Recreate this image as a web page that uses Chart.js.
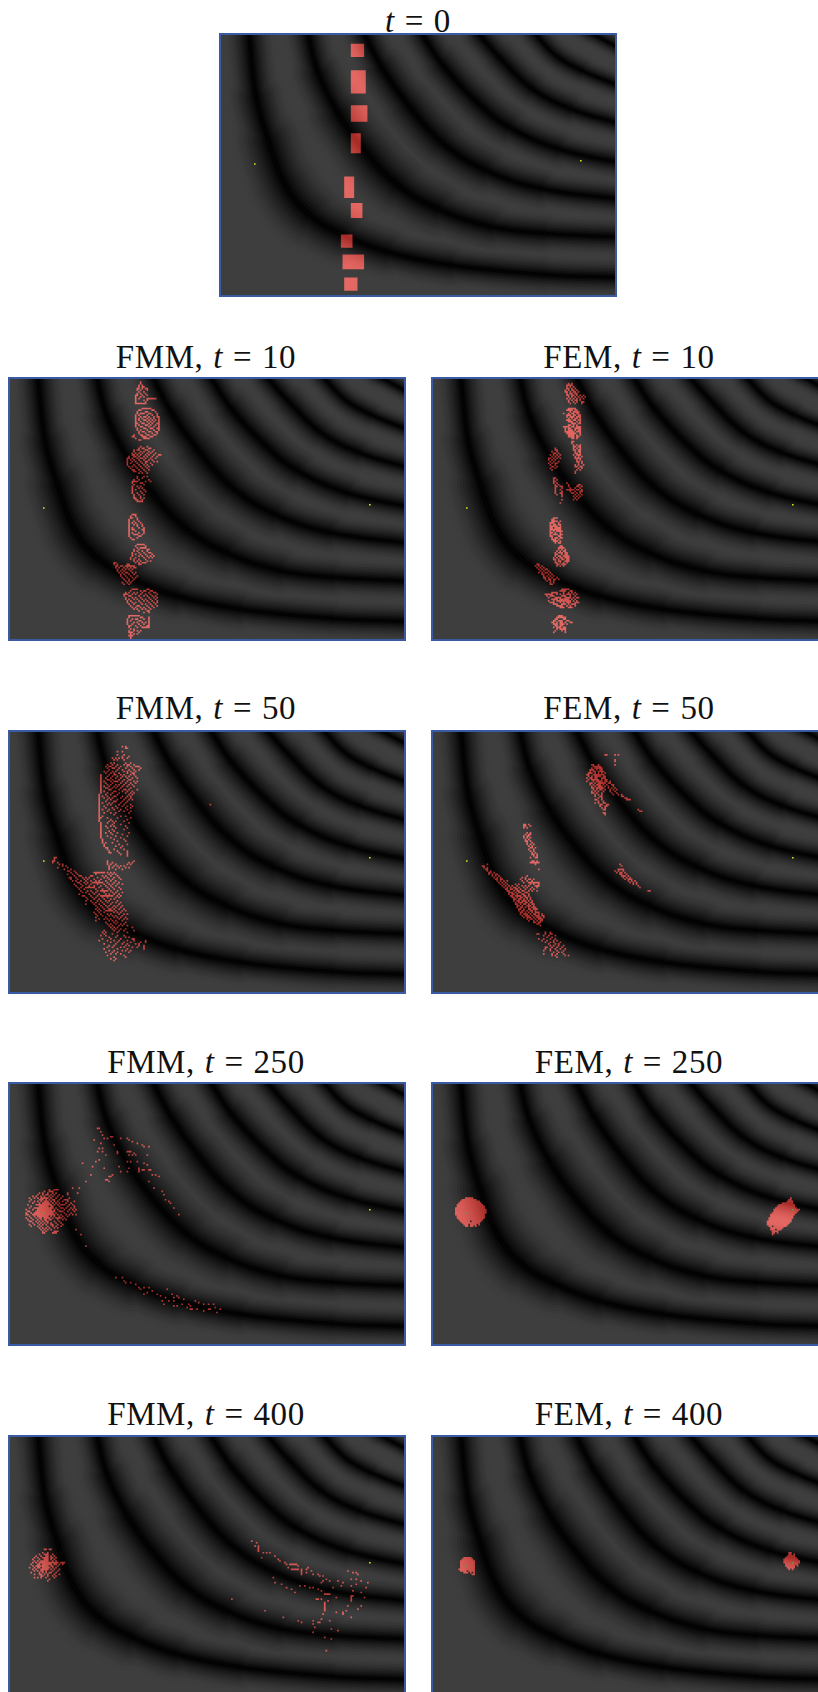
<!DOCTYPE html>
<html><head><meta charset="utf-8">
<script src="https://cdn.jsdelivr.net/npm/chart.js@4"></script>
<style>
html,body{margin:0;padding:0;background:#fff;width:818px;height:1692px;overflow:hidden}
.p{position:absolute;width:398px;height:264px;background:#3e3e3e}
.p canvas{display:block}
.p .f{position:absolute;left:0;top:0;width:398px;height:264px;box-sizing:border-box;border:2px solid #3a5ba4;pointer-events:none}
.t{position:absolute;width:420px;text-align:center;font-family:"Liberation Serif",serif;font-size:33px;line-height:36px;color:#111;white-space:pre;word-spacing:1px;letter-spacing:.6px}
</style></head><body>
<script>
// Dark trough lines of the background field, [col,row]
const trough1=[[17,-6],[18,0],[22.3,38],[29.5,64],[39.5,91],[54.4,109.5],[74.3,121.5],[101.4,132],[139.8,140],[195.8,145.6],[240,147.5],[248,148]];
const trough2=[[52.5,-6],[53.6,0],[59.6,23.5],[71.5,48],[87,70],[107.6,91.5],[131.9,106],[164,116.8],[195.8,120.8],[240,123],[248,123.3]];
const trough3=[[85,-6],[87.5,0],[98,20.5],[114,43.4],[134,65.7],[160.4,82.6],[194.2,93.8],[240,100],[248,100.8]];
const trough4=[[119,-6],[122.2,0],[134.2,18.5],[154.4,40.6],[174.3,56.4],[204.4,69.8],[240,78],[248,79.6]];
const trough5=[[152,-6],[156.2,0],[169,14.6],[188.6,33.5],[211.7,45.6],[240,54.2],[248,56]];
const trough6=[[185,-6],[190.2,0],[203.4,13.8],[218.7,22.6],[240,31.3],[248,34.4]];
const trough7=[[216,-5],[224.3,0],[240,8.4],[248,13]];
const troughs=[trough1,trough2,trough3,trough4,trough5,trough6,trough7];
// Visible width of each trough's dark halo at each of its points
const halo1=[50,50,58,72,88,82,68,56,48,42,42,42];
const halo2=[48,48,54,70,82,78,64,52,44,40,40];
const halo3=[46,46,54,68,68,56,44,38,38];
const halo4=[42,42,50,60,52,42,36,36];
const halo5=[38,38,46,48,38,32,32];
const halo6=[34,34,38,34,28,28];
const halo7=[28,28,26,26];
const halos=[halo1,halo2,halo3,halo4,halo5,halo6,halo7];

// Source points [col,row]
const sourceLeft=[21.6,79];
const sourceRight=[218.2,77];

// Particle cells, "row:cols" on the 240x160 pixel grid of the picture
const t0Cells=["7-14:80-87","23-36:80-88","44-53:80-89","61-72:80-85","87-99:76-81","103-111:80-86","122-129:74-80","134-142:75-87","148-155:76-83"];
const fmm10Cells=["3:80","4:80","5:79,81","6:79,81,82","7:78,79,81,83,84","8:78,80,84","9:79,82","10:78,80,83","11:77,78,81,84","12:77,80,82","13:77,79,84-89","14:77,82,84","15:77,83","16:77-83","19:81-86","20:79,80,87,88","21:78,83,84,89","22:78,80-82,85,86,90","23:77,79,84,87,90","24:77,80,82,83,85,88,90,91","25:77,79,81,84,86,88,91","26:77,79,82,83,85,87,89,91","27:77,80,84,86,88,91","28:77,78,81,82,85,87,90,91","29:77,79,83,84,86,89,91","30:77,80,81,85,88,91","31:78,82,83,86,87,90,91","32:78,80,84,88,91","33:79,81,82,85,86,89,90","34:79,83,87,90","35:76,80,81,84,85,88,89","36:75,76,81-83,86,87","37:77,82-85","38:79,80","42:80,84","43:79,81,82,85,86","44:76,78,79,83,84,88","45:76,80,82,85,87","46:75,77,79,81,84,86,89","47:75,76,78,80,83,85,88,91,92","48:73,76,77,79,82,84,87,90","49:72,73,75,78,80,81,83,86,89","50:72,74,76,79,82,85,87","51:72,75,77,80,83,84,88,90","52:72,74,78,81,83,86","53:72,76,79,82,84,87","54:73,75,77,80,83,85","55:74,78,81,84","56:75,76,79,82,85","57:76,77,80,83","58:79,81,84","60:78,82,84","61:78,81","62:76,79,85","63:75-78,83,86","64:75,80,81","65:76,82","66:75,78,80","67:75,79,81","68:75,77,82","69:75,80,83","70:75,78,81","71:76,79,82","72:76,80","73:76,77,80,82","74:77,78,81","75:78-81","83:75-77","84:74,77","85:74,75,78","86:73,78","87:73,76,79","88:73,75,77,80","89:73,76,78,81","90:73,78,81","91:73,75,79,82","92:73,75,76,81,82","93:73,77,82","94:73,75,79,82","95:73,76-78,81","96:73,79,80","97:74,78","98:75,76","101:78-82","102:77,83","103:78,80-83","104:76,79,84,85","105:76,78,81,84","106:75,79,82,85,86","107:75,77,80,83,87","108:75,79,81,84,86,88","109:74,77,82,85,87","110:74,76,79,83","111:76,78,80,84,86","112:77,79,81-83,64,65","113:79,80,64,66,72,73","114:65,66,68,69,71-76","115:65,67,70,72,74,76,77","116:66,69,71,73,75","117:66,68,70,74","118:67,69,71,72,75,77","119:68,70,73,76","120:68,71,74,78","121:69,72,75,77","122:70,73,76","123:71,73,75","124:69,72,74","125:70,73","128:75-78,84,85","129:74,80,82,83,86,87","130:71,73,76,78,81,85,88,89","131:70-72,75,77,80,83,86,90","132:70,73,74,79,82,84,87,89","133:71,75,77,80,85,88,90","134:71,73,76,78,81,83,86,89","135:72,74,79,82,84,87,90","136:72,75,77,80,85,88,90","137:73,76,81,83,86,89","138:74,78,79,84,87,90","139:75,77,80,82,85,88","140:76,78,81,83,86","141:79,84,85","142:82,85","144:73-79","145:73,80,81,85","146:72,75,77,78,82,85","147:72,74,79,80,85","148:72,76,78,81,83,85","149:72,75,79,82,85","150:73,74,77,80,84,85","151:73,78,81-85","152:74,76","153:73,76,78,80","154:73-75,79","155:74,76,78","156:73-75","157:74","158:74"];
const fem10Cells=["4:83,85","5:82-85","6:82,84,86","7:82,83,85,87","8:81,83,85,86,88","9:81,82,84,86,87,89","10:82,84,85,87,88","11:82,83,85,86,88,90,92","12:83,85,87,89,91,93","13:82,84,86,88,90,92","14:83,85,87,88,90","15:83,86,88,91,92","16:84,87,91","19:83-87","20:82-85,87,88","21:84,86-89","22:80,83,85,86,88,89","23:82-84,86,87,89,90","24:82,84-86,88-90","25:83,85,87,88,90","26:82-84,86,87,89,90","27:83-85,88,90","28:85-87,89,90","29:83,84,86,88","30:80-83,85,86,88-90","31:81,83,84,87-90","32:81,83-85,87,89,90","33:81-86,88-90","34:82-87,90","35:83-86,88,90","36:83-86,88,89","37:85,86,88","39:85,86","40:85","41:86,88,90","42:86,87,89,90","43:86,88,90,75","44:86,87,89,90,75,76","45:87,89,90,73,76","46:87,88,90,74,75,77","47:86,88-90,72,74,76,78","48:87,89,91,73,75,77","49:87-90,71,72,74,76,78","50:88,90,71,73,75","51:88,89,91,72,74,77","52:89,91,71,73,75,76","53:87,89,92,72,75","54:87,88,90,91,73,74,76","55:89,91,72,75","56:88,90,73","57:87","58:87","61:74,75","62:74,76","63:74,75","64:74,76,82","65:75,77,83,89,90","66:75,76,78,79,83,88,89,91","67:75,79,84,87,90","68:75,78,82-86,88,89,91","69:75,79,84,87,90,91","70:75,78,79,85,86,88,90","71:76,79,87,89,91","72:79,86,88,90","73:87,89","74:79,86,88","76:78","85:74-76","86:73,74","87:73-76,78","88:72-74,77","89:72,74,75,77,78","90:72-76,78","91:72,73,75-78","92:72-78","93:72,74,76-79","94:72,73,75,78","95:72,74-76,78,79","96:72,73,77,78","97:73,75,76,78,79","98:73-75,77","99:74-76,78","100:75,77,78","102:78,79","103:77-80","104:77,79,81","105:76,78,80,81","106:75,77-79,81,82","107:75,76,79,81,82","108:75,77,78,80-83","109:74,76,78,79,81-83","110:74,75,77,79,80,82,83","111:75,77,78,81-83","112:75,76,78,80,82","113:76,77,79-81,64,65","114:76,78,80,63,65,67","115:64,66,68","116:65,67,69,70","117:66,68,71","118:65,67,69,70,72","119:67,68,71,73","120:68,70,72,74","121:68,69,71,73,76","122:69,71,72,74,75,77","123:70,72,74","124:72,74","125:72,73","128:79-83","129:78-81,84,85","130:73-76,80,83,85,87","131:69-73,76,78,80,82-84,86,88","132:70,72-74,79-81,84,87","133:71,75-78,81-84,86,88,89","134:73-76,78-83,85,87","135:71,74,76-84,86,88","136:72-74,78,80,82-84,87-89","137:74-76,79-81,83,85-87","138:76-79,82,84,87","139:78-80,83-85","144:77-79","145:76-81","146:75,76,80,81","147:74,75,77-79,82,83","148:73,74,76,78,79,81,84,85","149:74-76,78-80,82","150:75,76,78,79","151:74,76-78,80,81","152:76,78-81","153:75,79,81","154:74,81"];
const fmm50Cells=["10:69,71","11:71,72","13:66,69","15:66,70","16:69,73","17:63,65,67,69,72","18:64,66,70","20:62,64,71,74","21:60,63,66,70,72,73,76","22:59,61,62,65,68,72,74,77-79","23:60,63,64,67,71,75,80","24:61,66,69,73,76,79","25:58,60,63,65,70,72,74,77","26:59,62,64,67,72,75,76","27:56,61,64,65,68,70,74,76","28:56,60,63,66,69,71,73,77","29:56,59,62,65,68,72,75,78","30:56,60,61,63,67,70,73,74","31:56,58,62,64-66,69,72,76,78","32:56,59,63,68,71,74,77","33:56,60,62,65,67,70,73,75","34:56,58,61,64,66,69,72,76","35:56,59,60,63,65,68,74","36:56,61,62,67,70,71,73,78","37:56,58,64,65,69,72,75","38:56,60,63,67,71,74,76","39:55,59,62,66,73,75","40:55,57,60,64,65,69,72,74","41:55,58,61,63,68,71,74","42:55,60,62,66,70,73,75","43:55,59,64,65,69,72","44:55,57,61,63,68,71","45:55,60,62,67,70,74,122","46:55,58,65,69,72,75","47:55,59,63,66,71,74","48:55,57,61,64,68,72","49:55,60,67,70,74","50:55,58,62,65,73","51:55,64","52:55,57,68,71","53:55,56,60,66,74","54:55,62,72","55:55,61,63,65,70","56:56,60,64,73","57:56,63,68","58:56,59,62,64,71","59:56,60,65,72","60:56,63,70","61:56,61,64","62:56,59,62,66,73","63:56,63,69","64:56,60,65,72","65:56,62,68","66:57,64,70","67:57,66,71","68:57,59,63","69:58,67,72","70:58,65,69","71:59,60,68","72:60,64,70","73:61,66,72","74:61,62,67,72","75:68,72","76:72","77:28,29","78:28","79:27,28,60,76","80:27,30,60,63,73,75","81:31,33,60,62,65,72,74","82:33,35,61,64,66,68,70","83:30,36,61,63,67,71,73","84:34,38,61,65,69","85:36,37,40","86:38,41,52-58,60,62,64","87:36,39,42,53,61,63,65","88:40,43,44,50,51,57,59,62,66","89:37,38,41,45,47,49,54,58,60,64,67","90:38,42,46,48,52,56,61,63,68","91:39,41,44,47,50,53,55,59,62,65","92:42,43,46,48,51-57,60,64,67","93:40,44,47,50,54,58,61,63,66,69","94:41,45,49,52,56,59,62,65","95:42,44,47-52,55,60,63,67","96:43,46,53,57,61,64,68","97:44,48,50,54,56-60,62,66","98:45,47,51,53,58,63,65,69","99:43,49,52,55,59,61,64,67","100:45,46,50,54,56-63,66,68","101:47,51,53,57,60,65,67","102:48,52,55,58,62,64","103:47,50,54,56,59,61,66","104:51,53,57,60,63,65,68","105:47,52,55,58,62,67","106:53,56,59,61,64,66,69","107:54,57,60,63,65,68","108:53,55,58,61,62,64,67,70","109:54,56,59-63,65,69,71","110:52,55,58,64,66,68","111:53,56,60,62,67,70,72","112:54,57,61,63,65,69","113:53,59,64,66,68,71","114:55,58,60,62,67,70,72","115:53,61,63,65,69","116:59,64,66,71","117:60,62,65,68,70","118:61,63,67,69,72","119:62,64,66,75","120:63,65,68,71","121:58,64,67,70,76","122:57,59,66,72","123:58,63","124:56,59,66,70","125:61,65,71,73","126:57,62,68,75,76","127:55,60,64,67,72,76,83","128:62,66,70,74,80,83","129:58,65,69,72,77,79","130:61,64,71,73,79,82","131:60,63,68,70,75,78,82","132:58,66,72,82","133:61,64,69,71,74","134:59,63,66,73","135:62,65,68","136:60,70","137:64,71","138:62,65","139:64"];
const fem50Cells=["15:105,106,111,113","18:111","19:111","21:97,98,101,111","22:98-102","23:97,99-103","24:96-98,100,102,103","25:96,98,99,101-104","26:95-97,99,101,103,105","27:94,95,98-104","28:95,97,99-102,104,105","29:94,96,97,99,100,103-105","30:95,97-101,103,105,106","31:94,98,100-103,105,106,108","32:96,97,99,101-105,107,108","33:96,98,100-102,104,106,109,110","34:97,99,101-103,105,107,110","35:97,98,100-104,107,109,111","36:98,100,102,103,105,108,110,112","37:97,99,101,104,108,111","38:97,98,100,103,109,112","39:99,101,103,110,113,115","40:99,102,103,115,116","41:101,103,117,118","42:99,100,103,118-120","43:101,104","44:99,101,104,105","45:102,103,106,107","46:102,105,106","47:103,105","48:104,105,125","49:126,127","50:104,105","51:105","57:56,57,59","58:56,57,60","59:56,58","62:58,60","63:57,59,60","64:56,58,59","65:56,58,60","66:57,59","67:57,58,60","68:58,61","69:58,60,62","70:59,61","71:60,61,63","72:59,62","73:60,62","74:61,63","75:61,62,64","76:62,64","77:60,63,64","79:61,62,64","80:60-65","81:63,34,114","82:31,32,115","83:32,34","84:33,34,65,113-116","85:34,36,111,113,116","86:35,36,38,112,114,115,117","87:35,37,39,40,114,115,118","88:37,39,41,58,115-117,119","89:38,40,42,55,57,116,118,120","90:39,40,42,43,54,57,59,60,62,117,119-121","91:40,42,44,46,55,58,61,119,121,123","92:41,43,45,56,59-65,120,122,124","93:42,44,46,51,53,60,62,65,122,124","94:43,45,47,49,52,55,57,59,63-65,125","95:44,46,48,50,51,53,56,58,61,64,126","96:45,46,48,49,51,52,54,57,60,62","97:46,47,50,52,53,55,56,59,61,64,131,132","98:47-49,51,53,54,57,58","99:47,49,50,52,55,56,59","100:48,49,51-54,56,57,59","101:49,50,52,54,55,57,58,60","102:50,51,53,54,56,58,60","103:50,52,53,55-57,59,61","104:51,53-55,57,58,60,61","105:51,52,54,56,57,59,61,62","106:52,53,55,58-60,62","107:52,54,55,57,59,61-63","108:53,54,56,59,60,62-64","109:53,55,56,58,60,61,63","110:54,55,57,59,61,63-65","111:54,56-58,60,62,63,65,67","112:55,57-59,61,63-65,67,68","113:56,58-60,62,64-66,68","114:58,60,61,63,65-67","115:59,62,64,66,67","116:62,63,65,66","117:64,65","118:66","122:69,72","123:64,65,69,72,73","124:68,71,75","125:70,73","126:65,68,72,75","127:67,70,74,76","128:69,72,74,78","129:71,75,77","130:72,74,77,80","131:69,70,73,76,79","132:69,72,75,78,81","133:68,72,76,80","134:74,77,79","135:68,73,76,80","136:73,75,81,83","137:76"];
const fmm250Cells=["28:54,55","30:56","32:57","33:62,63","34:58,60,68,72","35:52,73","36:75","37:56,78","38:64,81","39:82,85","40:55,57","42:54,57,66,72-74","43:66,76","44:59,84,75,77,73","47:55","48:53,72,74,78","49:45,82","50:84","51:51,67","52:58,73,79","53:79,81,82,85,86","54:68,72,79","56:50,63,87,89","57:62,61,91","59:59,60","60:47,61,85","64:39,43,88","65:25,28-30","66:22,25-27,93","67:19,21,24,27,29,36,42","68:18,21,23,24,26,28,31,36,94","69:15,17,20,22,25,27,30,33","70:13,16,18,20-24,26,29,32,37","71:14,19-21,23,25,27,28,31,34-36,95","72:13,16,18,20,22-24,26,28,30,33,36,40,97","73:15,19,21-25,27,29,31,35,38,98","74:12,17-26,28,30,32-34,37,39","75:14,19-24,26,27,31,36,40","76:13,16-27,29,32,33,35,38,40,100","77:11,15,18-26,28,30,34,37,39,41","78:12,13,17-28,31-33,36,40","79:11,14,16-27,29,34,38","80:11,12,15-28,30,32,35,37,39,41,103","81:13,16,18-24,26,28,31,33,36","82:11,14,17,19,20,22-25,27,29-32,34","83:12,15,18,20,22,23,25,26,30,33,35","84:13,14,17,19,21,23,24,28,31","85:15,18,20,22,24,26,29,32","86:13,16,19,21,23,26,27,30,33","87:14,18,20,24,27,29,32","88:19,21,23,25,28,30","89:20,22,24,26,41","90:21,23,28-30","91:21,22,27-29","92:44","99:47","118:65,69","120:70","121:71,74","122:77","124:79,82,85","125:80,96","126:87","127:84","128:82,90,99","129:92,102","130:95,100,103","131:106","132:93,97,100,113","133:115","134:105,94,109,118,121,124","135:102,100,110","136:108,125","137:110,111,114,121,122,128","138:118","139:126"];
const fem250Cells=["70:21-25,217","71:19-27,216,217","72:18-29,215-218","73:17-30,212-218","74:16-31,210-219","75:16-32,209-219","76:15-32,208-220","77:15-33,207-222","78:15-33,207-221","79:15-33,206-220","80:15-32,205-219","81:16-32,205-218","82:16-32,204-218","83:17-31,204-217","84:18-23,25-30,203-217","85:19-29,203-216","86:20-22,24-27,29,203-215","87:21,22,24,25,27,204,205,207-214","88:205-212","89:205-207,209-211","90:206-209","91:206,207,209","92:206"];
const fmm400Cells=["64:147","65:150","67:149,151","68:151","69:22,23,25,26,151","70:151","71:21,24,154,156,158","72:19,22-24,27","73:17,20,23,24,26,28,161","74:16,18,21-24,26,27,29,153","75:15,19,22-24,26,28,163","76:16,18,20-24,27,29,164","77:15,17,19-30,32-34,167","78:14,18,19,21-26,28,29,31,33,168,170-174","79:15,17-24,26,27,30,175","80:13,16,18,19,21-25,27,29,169,181","81:15,17,20-24,26,28,31,171-175,177,180","82:16,18,20,21,23,27,30,177,183,205","83:14,19,21,23,25,26,29,177,180,208,210","84:16,19,20,22,24,28,31,177,184,187,211","85:20,21,24,27,29,188,190","86:16,18,20,23,28,160","87:25,192,207,210","88:24,190,194,199,213","89:161,202,189,217","90:165,210","91:176,179,201,207","92:168,182,184,196,216","93:171,187","94:189,208","95:173,213","96:191-194","97:207,208","98:198,207,215","99:135,186,187,189,207","100:193,207","101:191","102:191","103:191,205,213","104:191","105:191,211","106:155,191,204","107:202,198","108:190,202","110:166,207","111:189","112:175,184,194","113:177,187,188","114:184","116:185","117:195","118:199","119:184","122:191","123:195","130:192"];
const fem400Cells=["71:216,217","72:216,217,219","73:215-219","74:20-24,214-220","75:19-25,213-221","76:18-26,213-222","77:18-26,213-222","78:18-26,214-221","79:18-26,214-219,221","80:18-26,215-219","81:17-26,216,218","82:18-21,23-26","83:20-22,24,26","84:25,26"];

// Panel titles and where each panel sits
const titleMethods=["","FMM","FEM","FMM","FEM","FMM","FEM","FMM","FEM"];
const titleTimes=[0,10,10,50,50,250,250,400,400];
const panelCells=[t0Cells,fmm10Cells,fem10Cells,fmm50Cells,fem50Cells,fmm250Cells,fem250Cells,fmm400Cells,fem400Cells];
const panelLeft=[219,8,431,8,431,8,431,8,431];
const panelTop=[33,377,377,730,730,1082,1082,1435,1435];
const titleCenter=[418,206,629,206,629,206,629,206,629];
const titleTop=[3,339,339,690,690,1044,1044,1396,1396];
const sourceCovered=[[0,0],[0,0],[0,0],[0,0],[0,0],[1,0],[1,1],[1,0],[1,1]];

const COLS=240, ROWS=159.2;
const HALO_STEPS=14, CREST_GRAY=62;

// Each row run of cells becomes one horizontal stroke of the particle line
function parseRuns(list){
  const pts=[];
  const range=s=>{const m=s.split('-').map(Number);return m.length>1?[m[0],m[1]]:[m[0],m[0]]};
  for(const entry of list){
    const [r,cs]=entry.split(':');
    const [r0,r1]=range(r);
    for(let y=r0;y<=r1;y++)for(const part of cs.split(',')){
      const [c0,c1]=range(part);
      pts.push({x:c0-.5,y},{x:c1+.5,y},{x:NaN,y:NaN});
    }
  }
  return pts;
}
const additive={id:'additive',
  beforeDatasetsDraw(chart){const g=chart.ctx;g.save();g.fillStyle='#3e3e3e';g.fillRect(0,0,chart.width,chart.height);g.restore()},
  beforeDatasetDraw(chart,args){if(chart.data.datasets[args.index].additive)chart.ctx.globalCompositeOperation='lighter'},
  afterDatasetDraw(chart){chart.ctx.globalCompositeOperation='source-over'}};

panelCells.forEach((cells,i)=>{
  const t=document.createElement('div');t.className='t';
  t.style.left=(titleCenter[i]-210)+'px';t.style.top=titleTop[i]+'px';
  t.innerHTML=(titleMethods[i]?titleMethods[i]+', ':'')+'<i>t</i> = '+titleTimes[i];
  document.body.appendChild(t);
  const d=document.createElement('div');d.className='p';
  d.style.left=panelLeft[i]+'px';d.style.top=panelTop[i]+'px';
  const c=document.createElement('canvas');c.width=398;c.height=264;c.style.width='398px';c.style.height='264px';
  d.appendChild(c);
  const f=document.createElement('div');f.className='f';d.appendChild(f);
  document.body.appendChild(d);
  const datasets=[];
  for(let step=HALO_STEPS;step>=1;step--){
    const gray=Math.round(CREST_GRAY*Math.sin(Math.PI/2*(step-.5)/HALO_STEPS));
    const share=step/HALO_STEPS;
    troughs.forEach((tr,k)=>datasets.push({
      type:'line',order:10+step,data:tr.map(p=>({x:p[0],y:p[1]})),showLine:true,
      borderColor:`rgb(${gray},${gray},${gray})`,borderCapStyle:'round',borderJoinStyle:'round',tension:.4,pointRadius:0,fill:false,clip:false,
      borderWidth:halos[k][0]*share,
      segment:{borderWidth:ctx=>(halos[k][ctx.p0DataIndex]+halos[k][ctx.p1DataIndex])/2*share}
    }));
  }
  datasets.push({type:'line',order:2,additive:true,data:parseRuns(cells),showLine:true,spanGaps:false,tension:0,fill:false,clip:false,pointRadius:0,
    borderColor:'rgb(165,42,37)',borderWidth:1.658,borderCapStyle:'butt',borderJoinStyle:'miter'});
  datasets.push({type:'scatter',order:1,data:[{x:sourceLeft[0],y:sourceLeft[1]},{x:sourceRight[0],y:sourceRight[1]}],pointStyle:'rect',pointRadius:1.1,pointBorderWidth:0,
    backgroundColor:sourceCovered[i].map(v=>v?'#5fa33a':'#e8e81e')});
  new Chart(c,{type:'scatter',data:{datasets},plugins:[additive],options:{
    responsive:false,animation:false,events:[],layout:{autoPadding:false,padding:0},
    plugins:{legend:{display:false},tooltip:{enabled:false},title:{display:false}},
    scales:{x:{type:'linear',display:false,min:0,max:COLS},y:{type:'linear',display:false,min:0,max:ROWS,reverse:true}}
  }});
});
</script>
</body></html>
